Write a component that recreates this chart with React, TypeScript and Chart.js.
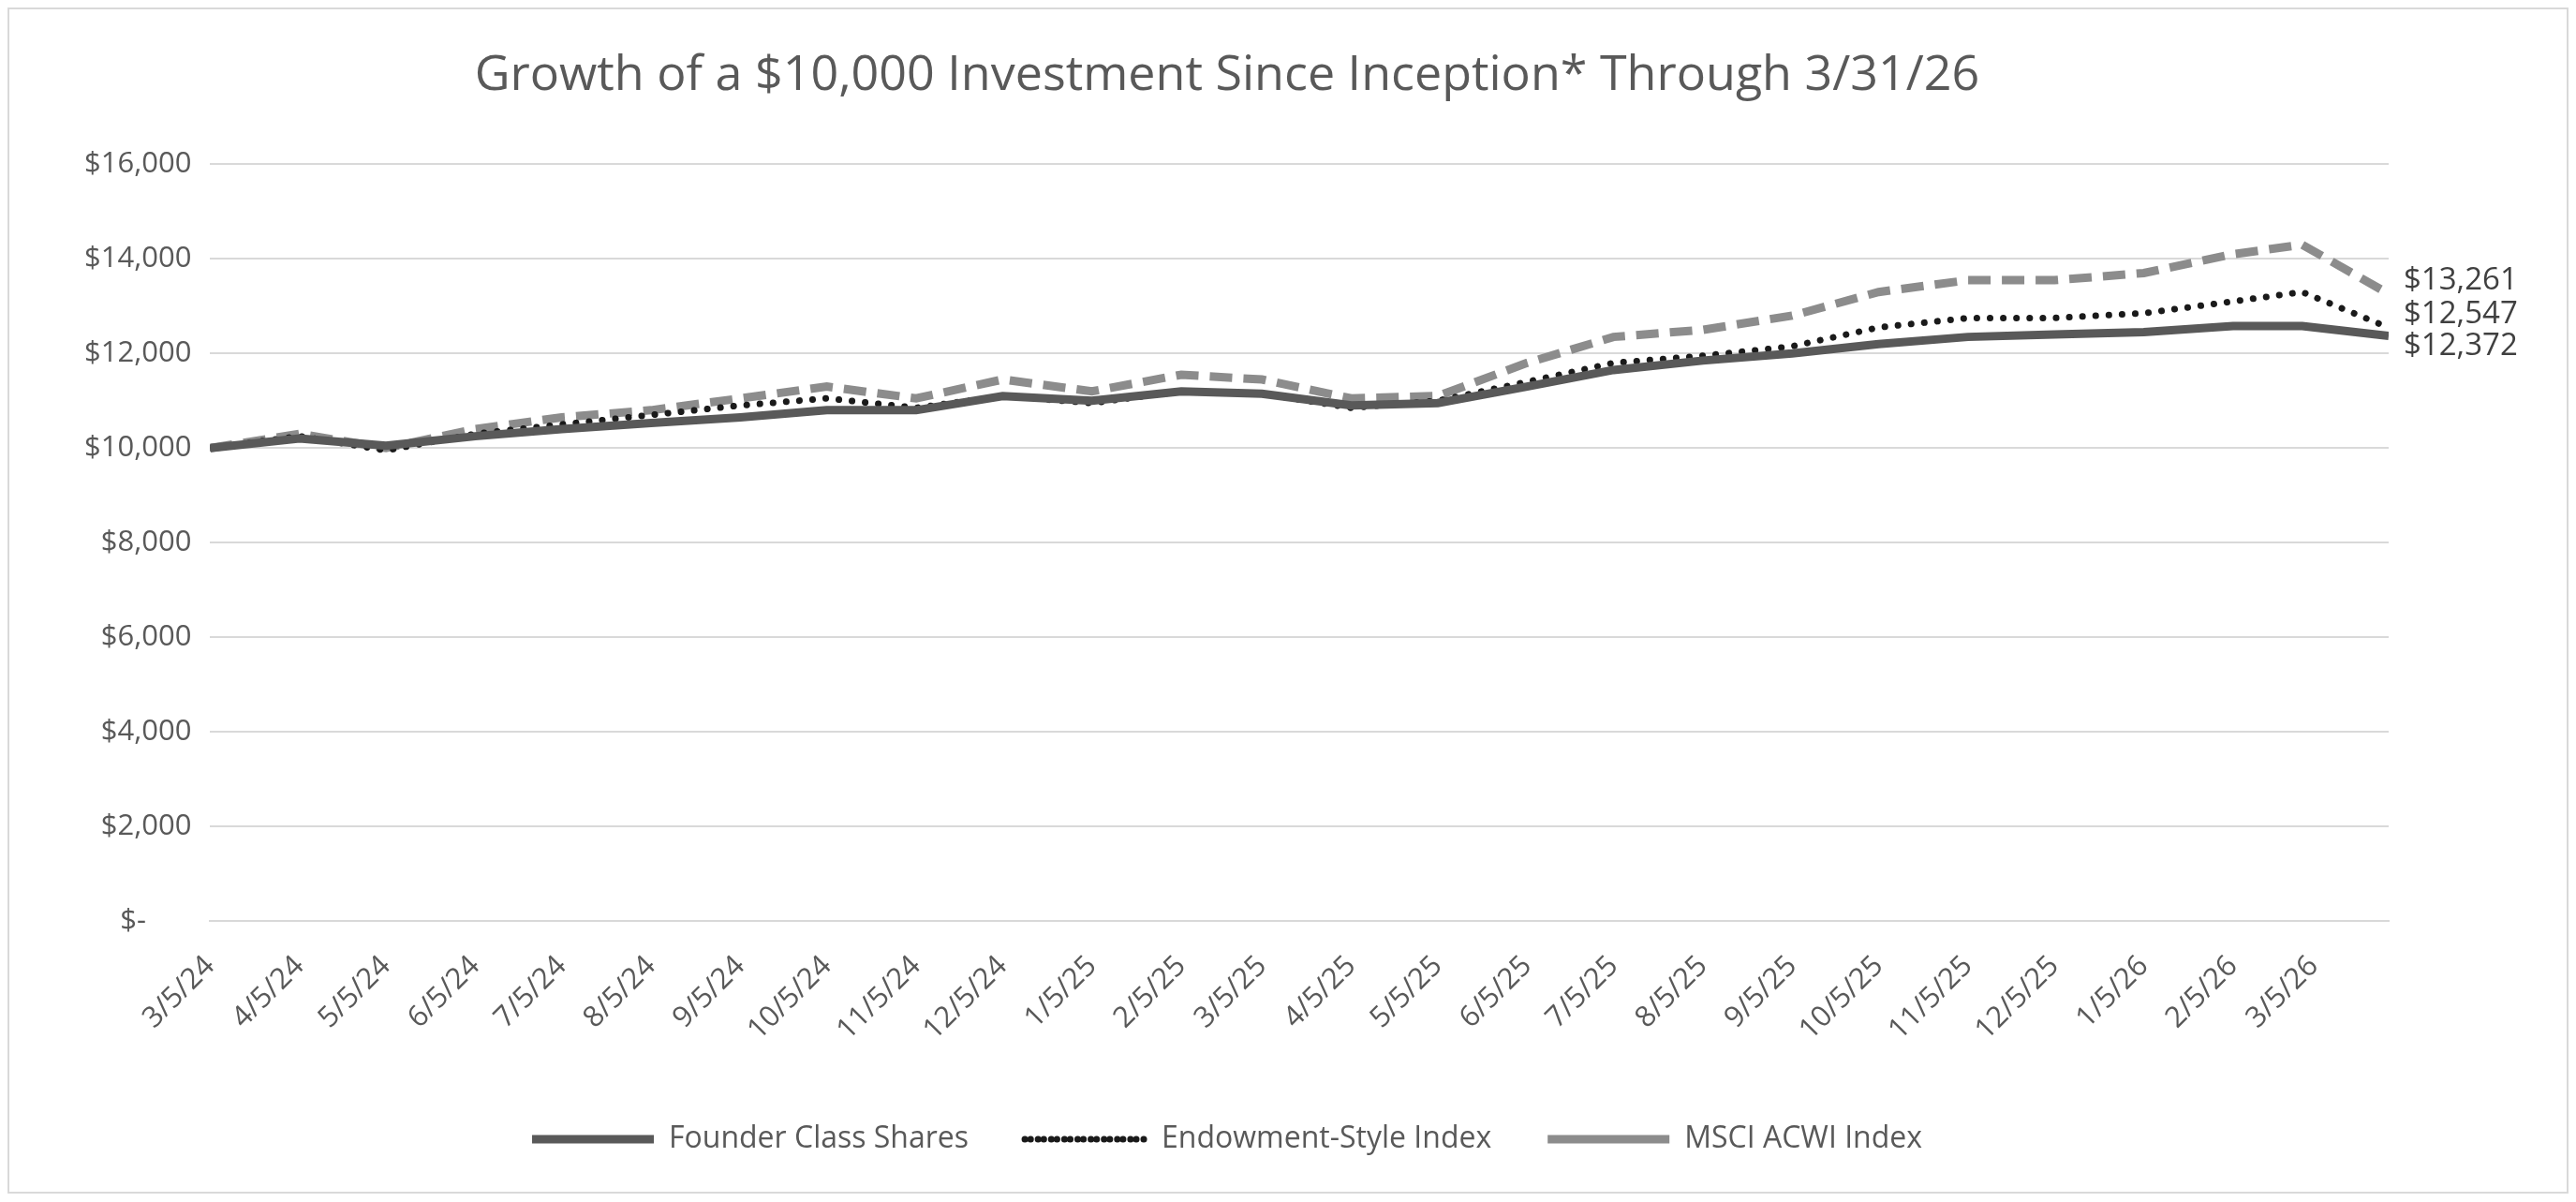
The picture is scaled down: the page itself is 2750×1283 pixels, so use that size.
import { useEffect, useRef } from 'react'
import { Chart, registerables } from 'chart.js'

Chart.register(...registerables)

// month tick dates (the 5th of each month), plus the final 3/31/26 point
const tickDates = [
  '2024-03-05', '2024-04-05', '2024-05-05', '2024-06-05', '2024-07-05', '2024-08-05', '2024-09-05',
  '2024-10-05', '2024-11-05', '2024-12-05', '2025-01-05', '2025-02-05', '2025-03-05', '2025-04-05',
  '2025-05-05', '2025-06-05', '2025-07-05', '2025-08-05', '2025-09-05', '2025-10-05', '2025-11-05',
  '2025-12-05', '2026-01-05', '2026-02-05', '2026-03-05',
]
const pointDates = [...tickDates.slice(0, 24), '2026-03-01', '2026-03-31']

const founder = [10000, 10200, 10050, 10250, 10400, 10530, 10650, 10800, 10800, 11100, 11000, 11200, 11150,
  10900, 10950, 11300, 11650, 11850, 12000, 12200, 12350, 12400, 12450, 12580, 12580, 12372]
const endowment = [10000, 10250, 9950, 10300, 10500, 10700, 10900, 11050, 10850, 11100, 10950, 11200, 11150,
  10850, 11000, 11400, 11800, 11950, 12150, 12550, 12750, 12750, 12850, 13100, 13300, 12547]
const msci = [10000, 10300, 10000, 10400, 10650, 10800, 11050, 11300, 11050, 11450, 11200, 11550, 11450,
  11050, 11100, 11800, 12350, 12500, 12800, 13300, 13550, 13550, 13700, 14100, 14300, 13261]

const seriesNames = ['Founder Class Shares', 'Endowment-Style Index', 'MSCI ACWI Index']

const start = Date.UTC(2024, 2, 5)
const dayOf = (s: string) => {
  const [y, m, d] = s.split('-').map(Number)
  return Math.round((Date.UTC(y, m - 1, d) - start) / 86400000)
}
const tickLabel = (s: string) => {
  const [y, m, d] = s.split('-').map(Number)
  return `${m}/${d}/${String(y).slice(2)}`
}
const tickDays = tickDates.map(dayOf)
const fmt = (v: number) => '$' + v.toLocaleString('en-US')
const FONT = "'Open Sans', 'Noto Sans', sans-serif"

const endLabels = {
  id: 'endLabels',
  afterDatasetsDraw(chart: any) {
    const ctx = chart.ctx
    const items = chart.data.datasets.map((ds: any, i: number) => {
      const meta = chart.getDatasetMeta(i)
      const pt = meta.data[meta.data.length - 1]
      return { y: pt.y, x: pt.x, text: fmt(ds.data[ds.data.length - 1].y) }
    })
    items.sort((a: any, b: any) => a.y - b.y)
    for (let i = 1; i < items.length; i++) {
      if (items[i].y - items[i - 1].y < 34) items[i].y = items[i - 1].y + 34
    }
    ctx.save()
    ctx.font = `33px ${FONT}`
    ctx.fillStyle = '#404040'
    ctx.textBaseline = 'middle'
    items.forEach((it: any) => ctx.fillText(it.text, it.x + 16, it.y - 14))
    ctx.restore()
  },
}

export default function App() {
  const ref = useRef<HTMLCanvasElement>(null)
  const inst = useRef<Chart | null>(null)

  useEffect(() => {
    if (!ref.current) return
    if (inst.current) inst.current.destroy()
    const xs = pointDates.map(dayOf)
    const mk = (vals: number[]) => vals.map((v, i) => ({ x: xs[i], y: v }))
    inst.current = new Chart(ref.current, {
      type: 'line',
      data: {
        datasets: [
          { label: seriesNames[0], data: mk(founder), borderColor: '#595959', backgroundColor: '#595959', borderWidth: 9, pointRadius: 0, tension: 0 },
          { label: seriesNames[1], data: mk(endowment), borderColor: '#1a1a1a', backgroundColor: '#1a1a1a', borderWidth: 7, borderDash: [0.1, 14], borderCapStyle: 'round', pointRadius: 0, tension: 0 },
          { label: seriesNames[2], data: mk(msci), borderColor: '#8c8c8c', backgroundColor: '#8c8c8c', borderWidth: 9, borderDash: [24, 12], pointRadius: 0, tension: 0 },
        ] as any,
      },
      options: {
        animation: false,
        responsive: true,
        maintainAspectRatio: false,
        layout: { padding: { left: 60, right: 190, top: 10, bottom: 30 } },
        plugins: {
          title: {
            display: true,
            text: 'Growth of a $10,000 Investment Since Inception* Through 3/31/26',
            color: '#595959',
            font: { family: FONT, size: 52, weight: 'normal' },
            padding: { top: 30, bottom: 63 },
          },
          legend: {
            position: 'bottom',
            labels: {
              boxWidth: 130,
              boxHeight: 0,
              color: '#595959',
              font: { family: FONT, size: 32 },
              padding: 60,
            },
          },
          tooltip: { enabled: false },
        },
        scales: {
          x: {
            type: 'linear',
            min: 0,
            max: dayOf('2026-03-31'),
            afterBuildTicks: (axis: any) => {
              axis.ticks = tickDays.map((v) => ({ value: v }))
            },
            ticks: {
              callback: (v: any) => {
                const i = tickDays.indexOf(Number(v))
                return i >= 0 ? tickLabel(tickDates[i]) : ''
              },
              maxRotation: 45,
              minRotation: 45,
              autoSkip: false,
              padding: 22,
              color: '#595959',
              font: { family: FONT, size: 31 },
            },
            grid: { display: false },
            border: { color: '#d9d9d9', width: 2 },
          },
          y: {
            min: 0,
            max: 16000,
            ticks: {
              stepSize: 2000,
              color: '#595959',
              padding: 20,
              font: { family: FONT, size: 31 },
              callback: (v: any) => (Number(v) === 0 ? '$-      ' : fmt(Number(v))),
            },
            grid: { color: '#d9d9d9', lineWidth: 2, drawTicks: false },
            border: { display: false },
          },
        },
      },
      plugins: [endLabels],
    })
    return () => {
      if (inst.current) inst.current.destroy()
      inst.current = null
    }
  }, [])

  return (
    <div style={{ width: 2730, height: 1262, border: '2px solid #d9d9d9', background: '#fff' }}>
      <canvas ref={ref} />
    </div>
  )
}
